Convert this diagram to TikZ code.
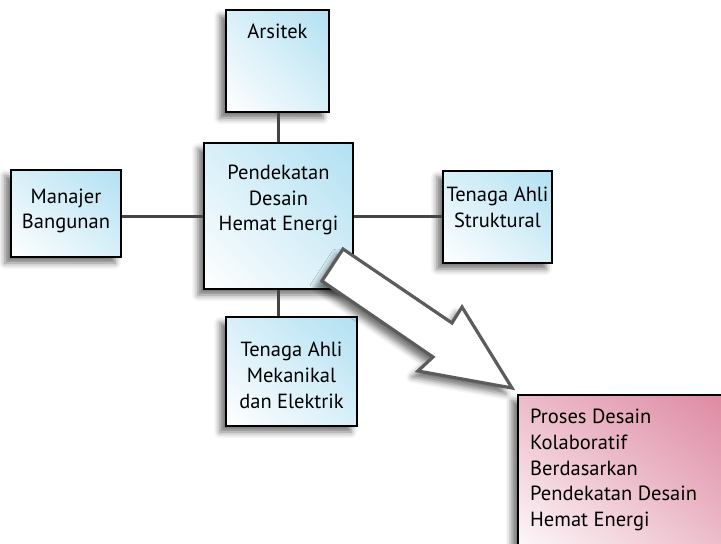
\documentclass[tikz,border=0pt]{standalone}
\usepackage{fontspec}
\setmainfont{PT Sans}
\usetikzlibrary{shadows.blur,shadings}
\definecolor{boxblue}{RGB}{178,224,242}
\definecolor{boxpink}{RGB}{220,132,158}
\definecolor{linkgray}{RGB}{68,68,68}
\definecolor{arrowgray}{RGB}{92,92,92}
\begin{document}
\begin{tikzpicture}[x=1pt,y=-1pt,
  softshadow/.style={blur shadow={shadow xshift=-6pt, shadow yshift=-6pt,
      shadow blur radius=6pt, shadow opacity=55}},
  rolebox/.style={draw=black, line width=1.5pt, rectangle, inner sep=0pt,
      lower left=white, upper right=boxblue, upper left=boxblue!50,
      lower right=boxblue!50, softshadow},
  resultbox/.style={draw=black, line width=1.5pt, rectangle, inner sep=0pt,
      lower left=white, upper right=boxpink, upper left=boxpink!55,
      lower right=boxpink!55, softshadow},
  label/.style={align=center, inner sep=0pt, font=\fontsize{20.5}{25.7}\selectfont},
  link/.style={draw=linkgray, line width=3pt},
  bigarrow/.style={draw=arrowgray, fill=white, line width=3.2pt,
      line join=miter, softshadow}]
\useasboundingbox (0,0) rectangle (721,544);
\clip (0,0) rectangle (721,544);

% participant boxes
\node[rolebox, minimum width=103pt, minimum height=102pt] (ars) at (277.5,61) {};
\node[rolebox, minimum width=149pt, minimum height=146pt] (core) at (278.5,216) {};
\node[rolebox, minimum width=110pt, minimum height=87pt] (mgr) at (66,213.5) {};
\node[rolebox, minimum width=109pt, minimum height=92pt] (str) at (497.5,217) {};
\node[rolebox, minimum width=131pt, minimum height=109pt] (mep) at (291.5,371.5) {};

% connections to the central approach
\draw[link] (ars.south -| core.north) -- (core.north);
\draw[link] (mgr.east |- core.west) -- (core.west);
\draw[link] (core.east) -- (str.west |- core.east);
\draw[link] (core.south) -- (core.south |- mep.north);

% box texts
\node[label] (tars) at (277.5,31.5) {Arsitek};
\node[label] (tcore) at (278.5,200) {Pendekatan\\Desain\\Hemat Energi};
\node[label] (tmgr) at (66,211) {Manajer\\Bangunan};
\node[label] (tstr) at (497.5,207.5) {Tenaga Ahli\\Struktural};
\node[label] (tmep) at (291.5,375.5) {Tenaga Ahli\\Mekanikal\\dan Elektrik};

% outcome box
\node[resultbox, minimum width=230pt, minimum height=170pt, anchor=north west] (res) at (517,394) {};
\node[label, align=left, anchor=north west] (tres) at (530,409)
  {Proses Desain\\Kolaboratif\\Berdasarkan\\Pendekatan Desain\\Hemat Energi};

% outline arrow leading to the outcome
\draw[bigarrow] (343,249) -- (452,323) -- (462,307) -- (512,388)
  -- (418,371) -- (433,357) -- (322,281) -- cycle;
\end{tikzpicture}
\end{document}
